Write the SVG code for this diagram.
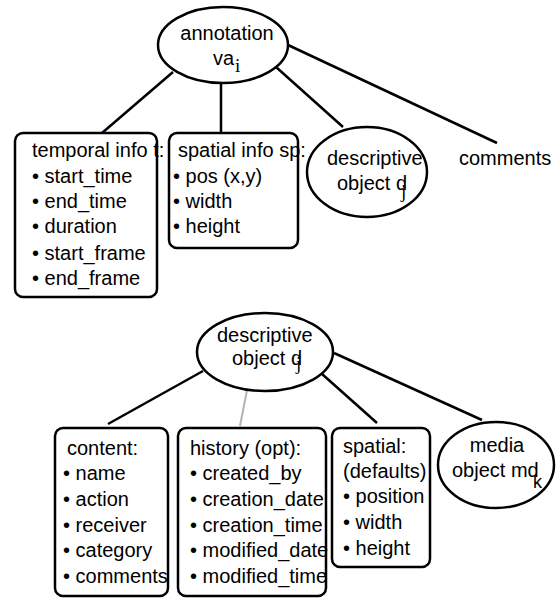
<svg xmlns="http://www.w3.org/2000/svg" width="556" height="598" viewBox="0 0 556 598">
  <style>
    .shape { fill: #ffffff; stroke: #000000; stroke-width: 2.5; }
    .edge { stroke: #000000; stroke-width: 2.5; fill: none; }
    .edge.light { stroke: #b4b4b4; stroke-width: 2; }
    text { font-family: "Liberation Sans", Arial, sans-serif; font-size: 20px; fill: #000000; }
    text.sub { font-family: "Liberation Serif", "Times New Roman", serif; font-size: 19px; }
    text.subsans { font-size: 18px; }
  </style>

  <!-- connectors -->
  <g id="connectors">
    <line class="edge" x1="173" y1="72" x2="102" y2="133"/>
    <line class="edge" x1="221" y1="83" x2="221" y2="133"/>
    <line class="edge" x1="276" y1="67" x2="343" y2="127"/>
    <line class="edge" x1="288" y1="45" x2="497" y2="143"/>
    <line class="edge" x1="203" y1="371" x2="108" y2="424"/>
    <line class="edge light" x1="247" y1="390" x2="240" y2="426"/>
    <line class="edge" x1="322" y1="374" x2="377" y2="423"/>
    <line class="edge" x1="334" y1="353" x2="482" y2="420"/>
  </g>

  <!-- top tree -->
  <g id="annotation">
    <ellipse class="shape" cx="223" cy="45" rx="65" ry="38"/>
    <text x="227" y="40" text-anchor="middle">annotation</text>
    <text x="213" y="65">va</text>
    <text class="sub" x="235" y="72">i</text>
  </g>

  <g id="temporal-info">
    <rect class="shape" x="15" y="133" width="142" height="164" rx="8"/>
    <text x="32" y="157">temporal info t:</text>
    <text x="32" y="183">• start_time</text>
    <text x="32" y="208">• end_time</text>
    <text x="32" y="233">• duration</text>
    <text x="32" y="260">• start_frame</text>
    <text x="32" y="285">• end_frame</text>
  </g>

  <g id="spatial-info">
    <rect class="shape" x="169" y="133" width="129" height="115" rx="8"/>
    <text x="178" y="157">spatial info sp:</text>
    <text x="173" y="183">• pos (x,y)</text>
    <text x="173" y="208">• width</text>
    <text x="173" y="233">• height</text>
  </g>

  <g id="descriptive-object-top">
    <ellipse class="shape" cx="367" cy="172" rx="60" ry="45"/>
    <text x="327" y="165">descriptive</text>
    <text x="337" y="190">object d</text>
    <text class="sub" x="401" y="198">j</text>
  </g>

  <g id="comments">
    <text x="459" y="165">comments</text>
  </g>

  <!-- bottom tree -->
  <g id="descriptive-object">
    <ellipse class="shape" cx="265" cy="352" rx="68" ry="39"/>
    <text x="217" y="342">descriptive</text>
    <text x="232" y="365">object d</text>
    <text class="sub" x="296" y="370">j</text>
  </g>

  <g id="content">
    <rect class="shape" x="55" y="428" width="113" height="168" rx="8"/>
    <text x="67" y="455">content:</text>
    <text x="63" y="480">• name</text>
    <text x="63" y="506">• action</text>
    <text x="63" y="532">• receiver</text>
    <text x="63" y="557">• category</text>
    <text x="63" y="583">• comments</text>
  </g>

  <g id="history">
    <rect class="shape" x="178" y="428" width="148" height="168" rx="8"/>
    <text x="190" y="455">history (opt):</text>
    <text x="190" y="480">• created_by</text>
    <text x="190" y="506">• creation_date</text>
    <text x="190" y="532">• creation_time</text>
    <text x="190" y="557">• modified_date</text>
    <text x="190" y="583">• modified_time</text>
  </g>

  <g id="spatial-defaults">
    <rect class="shape" x="332" y="428" width="98" height="139" rx="8"/>
    <text x="343" y="453">spatial:</text>
    <text x="343" y="478">(defaults)</text>
    <text x="343" y="503">• position</text>
    <text x="343" y="529">• width</text>
    <text x="343" y="555">• height</text>
  </g>

  <g id="media-object">
    <ellipse class="shape" cx="496" cy="465" rx="58" ry="43"/>
    <text x="497" y="452" text-anchor="middle">media</text>
    <text x="452" y="477">object md</text>
    <text class="subsans" x="533" y="488">k</text>
  </g>
</svg>
